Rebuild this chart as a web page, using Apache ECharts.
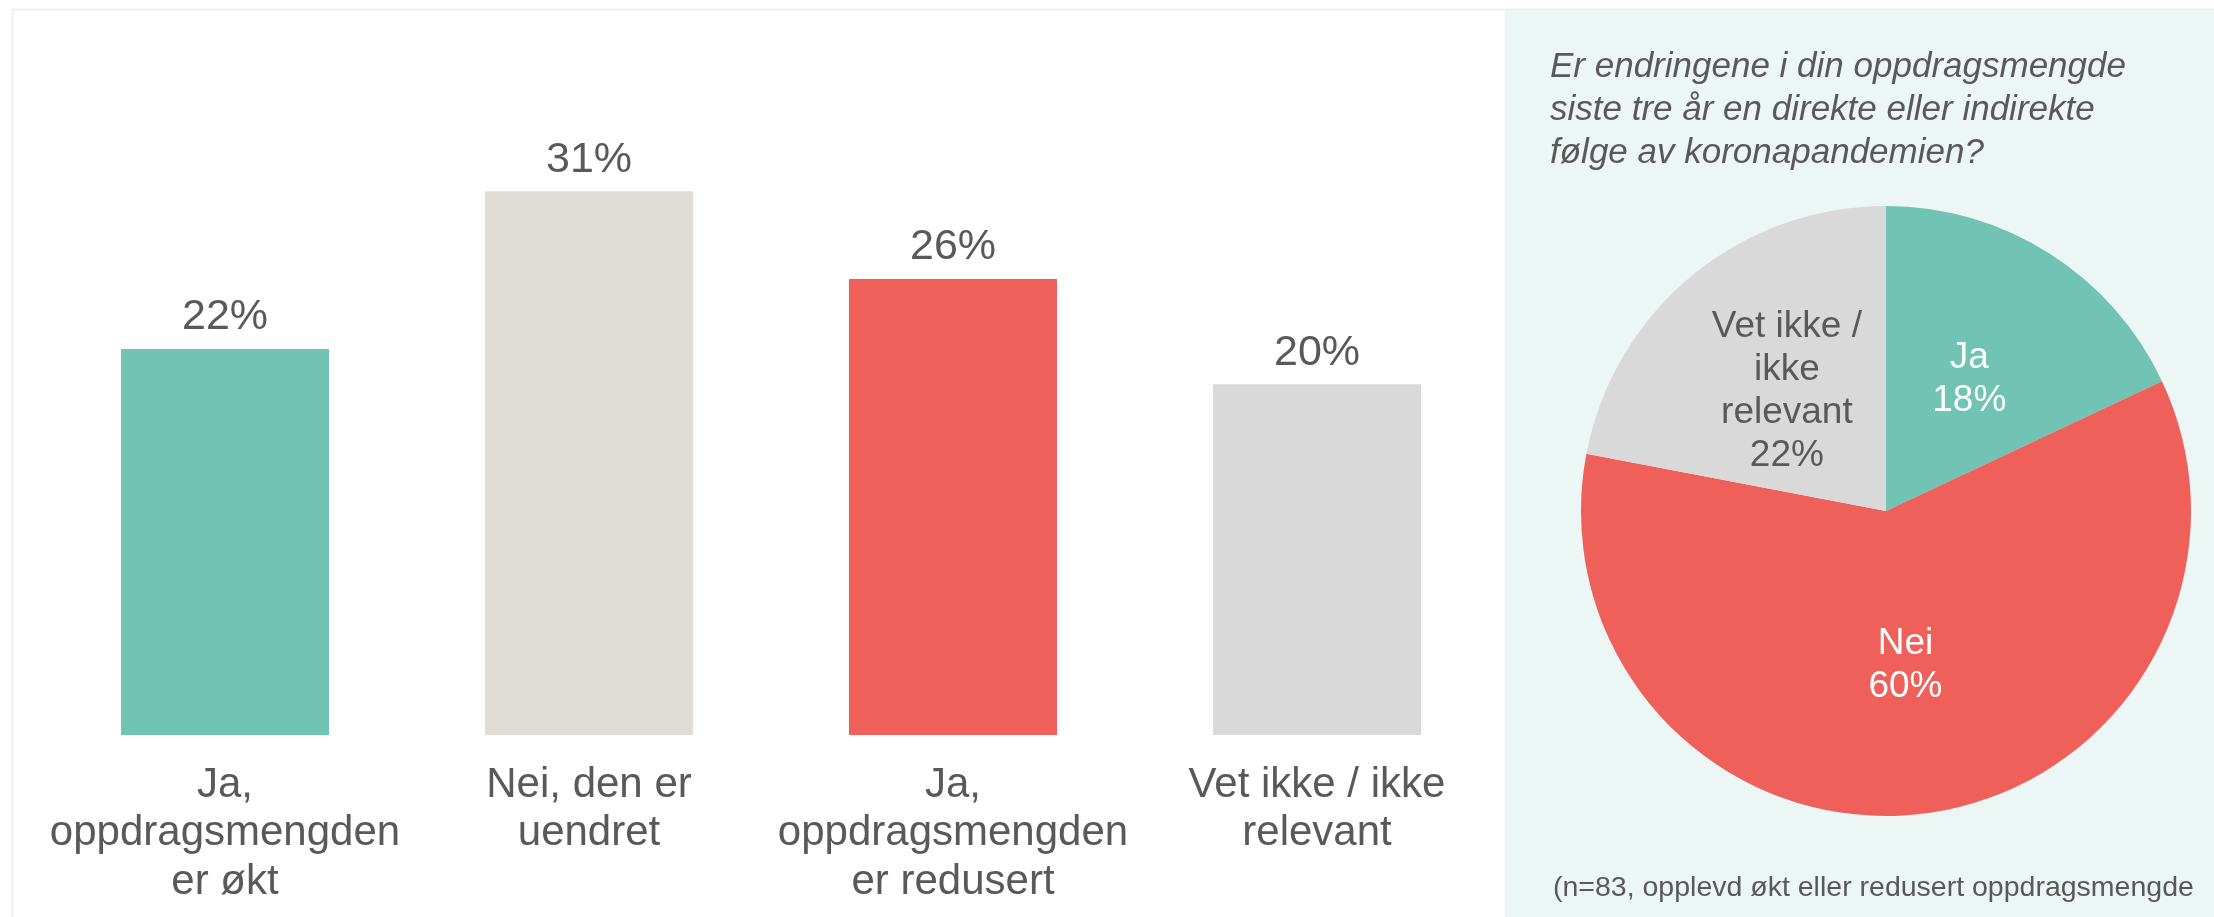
<!DOCTYPE html>
<html>
<head>
<meta charset="utf-8">
<script src="https://cdn.jsdelivr.net/npm/echarts@6/dist/echarts.min.js"></script>
<style>
html,body{margin:0;padding:0;background:#fff;}
#c{width:2214px;height:917px;}
</style>
</head>
<body>
<div id="c"></div>
<script>
// ---- data ----
var barCategories = [
  'Ja,\noppdragsmengden\ner økt',
  'Nei, den er\nuendret',
  'Ja,\noppdragsmengden\ner redusert',
  'Vet ikke / ikke\nrelevant'
];
var barValues = [22, 31, 26, 20];
var barColors = ['#71C3B3', '#E0DCD6', '#F0605B', '#D9D9D9'];

var pieNames = ['Ja', 'Nei', 'Vet ikke /\nikke\nrelevant'];
var pieValues = [18, 60, 22];
var pieColors = ['#71C3B3', '#F0605B', '#D9D9D9'];
var pieLabelColors = ['#FFFFFF', '#FFFFFF', '#595959'];

var pieTitle = 'Er endringene i din oppdragsmengde\nsiste tre år en direkte eller indirekte\nfølge av koronapandemien?';
var footnote = '(n=83, opplevd økt eller redusert oppdragsmengde';

var FONT = '"Liberation Sans", Arial, sans-serif';
var TXT = '#595959';

var chart = echarts.init(document.getElementById('c'), null, {renderer: 'canvas'});
chart.setOption({
  animation: false,
  backgroundColor: '#FFFFFF',
  textStyle: {fontFamily: FONT},
  graphic: [
    {type: 'rect', z: -10, silent: true,
     shape: {x: 12.5, y: 9.5, width: 2300, height: 1000},
     style: {fill: '#FFFFFF', stroke: '#F0F0F0', lineWidth: 2}},
    {type: 'rect', z: -9, silent: true,
     shape: {x: 1505, y: 10, width: 720, height: 920},
     style: {fill: '#ECF6F4', stroke: '#EEF1F0', lineWidth: 1}},
    {type: 'text', z: 10, left: 1550, top: 46,
     style: {text: pieTitle, fontFamily: FONT, fontStyle: 'italic', fontSize: 35,
             lineHeight: 43, fill: TXT}},
    {type: 'text', z: 10, left: 1553, top: 874,
     style: {text: footnote, fontFamily: FONT, fontSize: 28.5, fill: TXT}}
  ],
  grid: {left: 43, top: 121, width: 1456, height: 614, containLabel: false},
  xAxis: {
    type: 'category',
    data: barCategories,
    axisLine: {show: false},
    axisTick: {show: false},
    axisLabel: {color: TXT, fontSize: 42, lineHeight: 48.5, margin: 26, interval: 0, fontFamily: FONT}
  },
  yAxis: {type: 'value', min: 0, max: 35, show: false, splitLine: {show: false}},
  series: [
    {
      type: 'bar',
      barWidth: 208,
      data: barValues.map(function (v, i) {
        return {value: v, itemStyle: {color: barColors[i]}};
      }),
      label: {show: true, position: 'top', distance: 10, color: TXT, fontSize: 43,
              fontFamily: FONT, formatter: '{c}%'}
    },
    {
      type: 'pie',
      center: [1886, 511],
      radius: [0, 305],
      startAngle: 90,
      clockwise: true,
      data: pieNames.map(function (n, i) {
        return {name: n, value: pieValues[i], itemStyle: {color: pieColors[i]},
                label: {color: pieLabelColors[i]}};
      }),
      label: {show: true, position: 'inside', fontSize: 37, lineHeight: 43,
              fontFamily: FONT, padding: [15, 0, 0, 0],
              formatter: function (p) { return p.name + '\n' + p.value + '%'; }},
      labelLine: {show: false},
      emphasis: {disabled: true}
    }
  ]
});
</script>
</body>
</html>
